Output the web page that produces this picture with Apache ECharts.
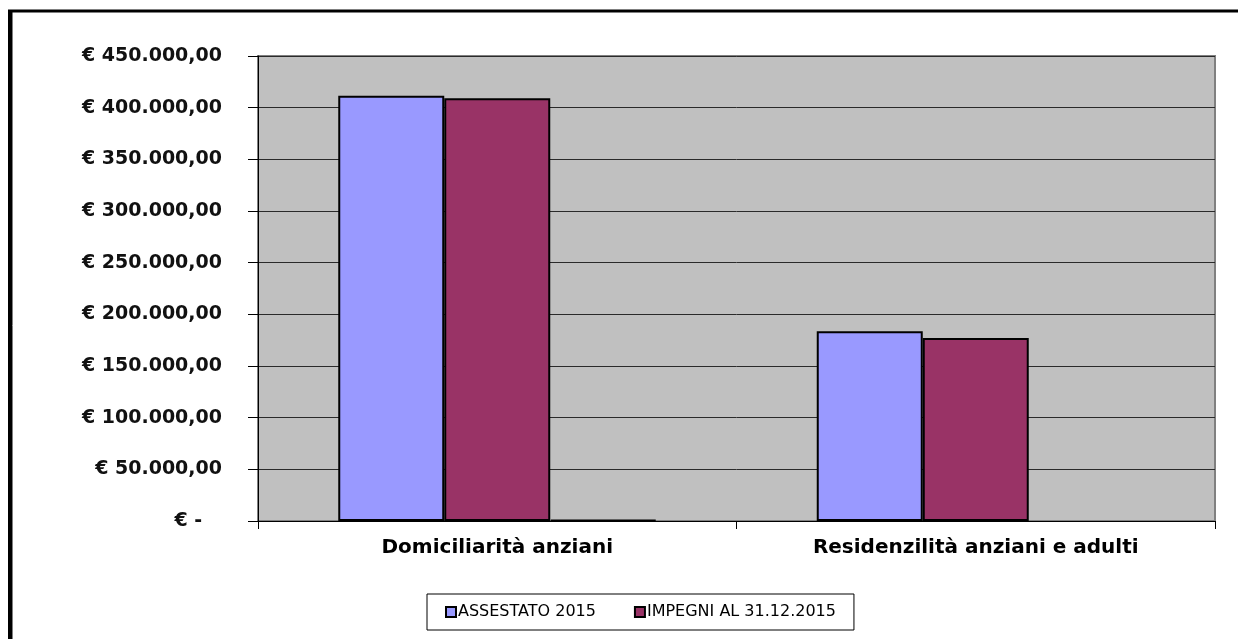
<!DOCTYPE html>
<html>
<head>
<meta charset="utf-8">
<script src="https://cdn.jsdelivr.net/npm/echarts@6/dist/echarts.min.js"></script>
<style>
  html, body { margin: 0; padding: 0; background: #ffffff; }
  #chart { width: 1238px; height: 639px; }
</style>
</head>
<body>
<div id="chart"></div>
<script>
// Categories and values (euro)
const categories = ['Domiciliarità anziani', 'Residenzilità anziani e adulti'];
const seriesNames = ['ASSESTATO 2015', 'IMPEGNI AL 31.12.2015'];
const assestato2015 = [411500, 183700];
const impegni2015 = [409000, 177200];
const residuo = [1000, '-'];
const yMin = 0, yMax = 450000, yStep = 50000;

// Italian accounting format: "€ 450.000,00", zero shown as "€ -" (padded like the accounting style)
function euro(v) {
  if (v === 0) return '€ -   ';
  const int = Math.round(v).toString().replace(/\B(?=(\d{3})+(?!\d))/g, '.');
  return '€ ' + int + ',00';
}

const FONT = 'DejaVu Sans';
const barStyle = (color) => ({ color: color, borderColor: '#000000', borderWidth: 2 });

const chart = echarts.init(document.getElementById('chart'), null, { renderer: 'canvas' });
chart.setOption({
  animation: false,
  backgroundColor: '#ffffff',
  grid: {
    left: 258, right: 23, top: 56, bottom: 118,
    show: true,
    backgroundColor: '#c0c0c0',
    borderColor: '#808080',
    borderWidth: 2
  },
  legend: {
    data: seriesNames,
    left: 427, top: 594,
    orient: 'horizontal',
    borderColor: '#000000', borderWidth: 1,
    padding: [10, 18, 10, 18],
    itemGap: 38,
    itemWidth: 10, itemHeight: 10,
    icon: 'rect',
    textStyle: { fontFamily: FONT, fontSize: 16, color: '#000000', padding: [0, 0, 0, -3] }
  },
  xAxis: {
    type: 'category',
    data: categories,
    axisLine: { lineStyle: { color: '#000000', width: 1 } },
    axisTick: { show: true, length: 8, lineStyle: { color: '#000000' } },
    axisLabel: { margin: 17, fontFamily: FONT, fontSize: 20, fontWeight: 'bold', color: '#000000' },
    splitLine: { show: false }
  },
  yAxis: {
    type: 'value',
    min: yMin, max: yMax, interval: yStep,
    axisLine: { show: true, lineStyle: { color: '#000000', width: 1 } },
    axisTick: { show: true, length: 10, lineStyle: { color: '#000000' } },
    axisLabel: { margin: 36, fontFamily: FONT, fontSize: 19, fontWeight: 'bold', color: '#111111', formatter: euro },
    splitLine: { show: true, lineStyle: { color: '#2a2a2a', width: 1 } }
  },
  series: [
    { name: seriesNames[0], type: 'bar', data: assestato2015, barWidth: 106, barGap: '0%', itemStyle: barStyle('#9999ff') },
    { name: seriesNames[1], type: 'bar', data: impegni2015, barWidth: 106, barGap: '0%', itemStyle: barStyle('#993366') },
    { name: 'altro', type: 'bar', data: residuo, barWidth: 106, barGap: '0%', itemStyle: barStyle('#ffffcc') }
  ],
  graphic: [
    // outer chart frame (left and top edges)
    { type: 'line', shape: { x1: 10, y1: 10, x2: 10, y2: 639 }, style: { stroke: '#000000', lineWidth: 4 } },
    { type: 'line', shape: { x1: 12.5, y1: 12, x2: 12.5, y2: 639 }, style: { stroke: '#808080', lineWidth: 1 } },
    { type: 'line', shape: { x1: 8, y1: 11, x2: 1238, y2: 11 }, style: { stroke: '#000000', lineWidth: 3 } }
  ]
});
</script>
</body>
</html>
